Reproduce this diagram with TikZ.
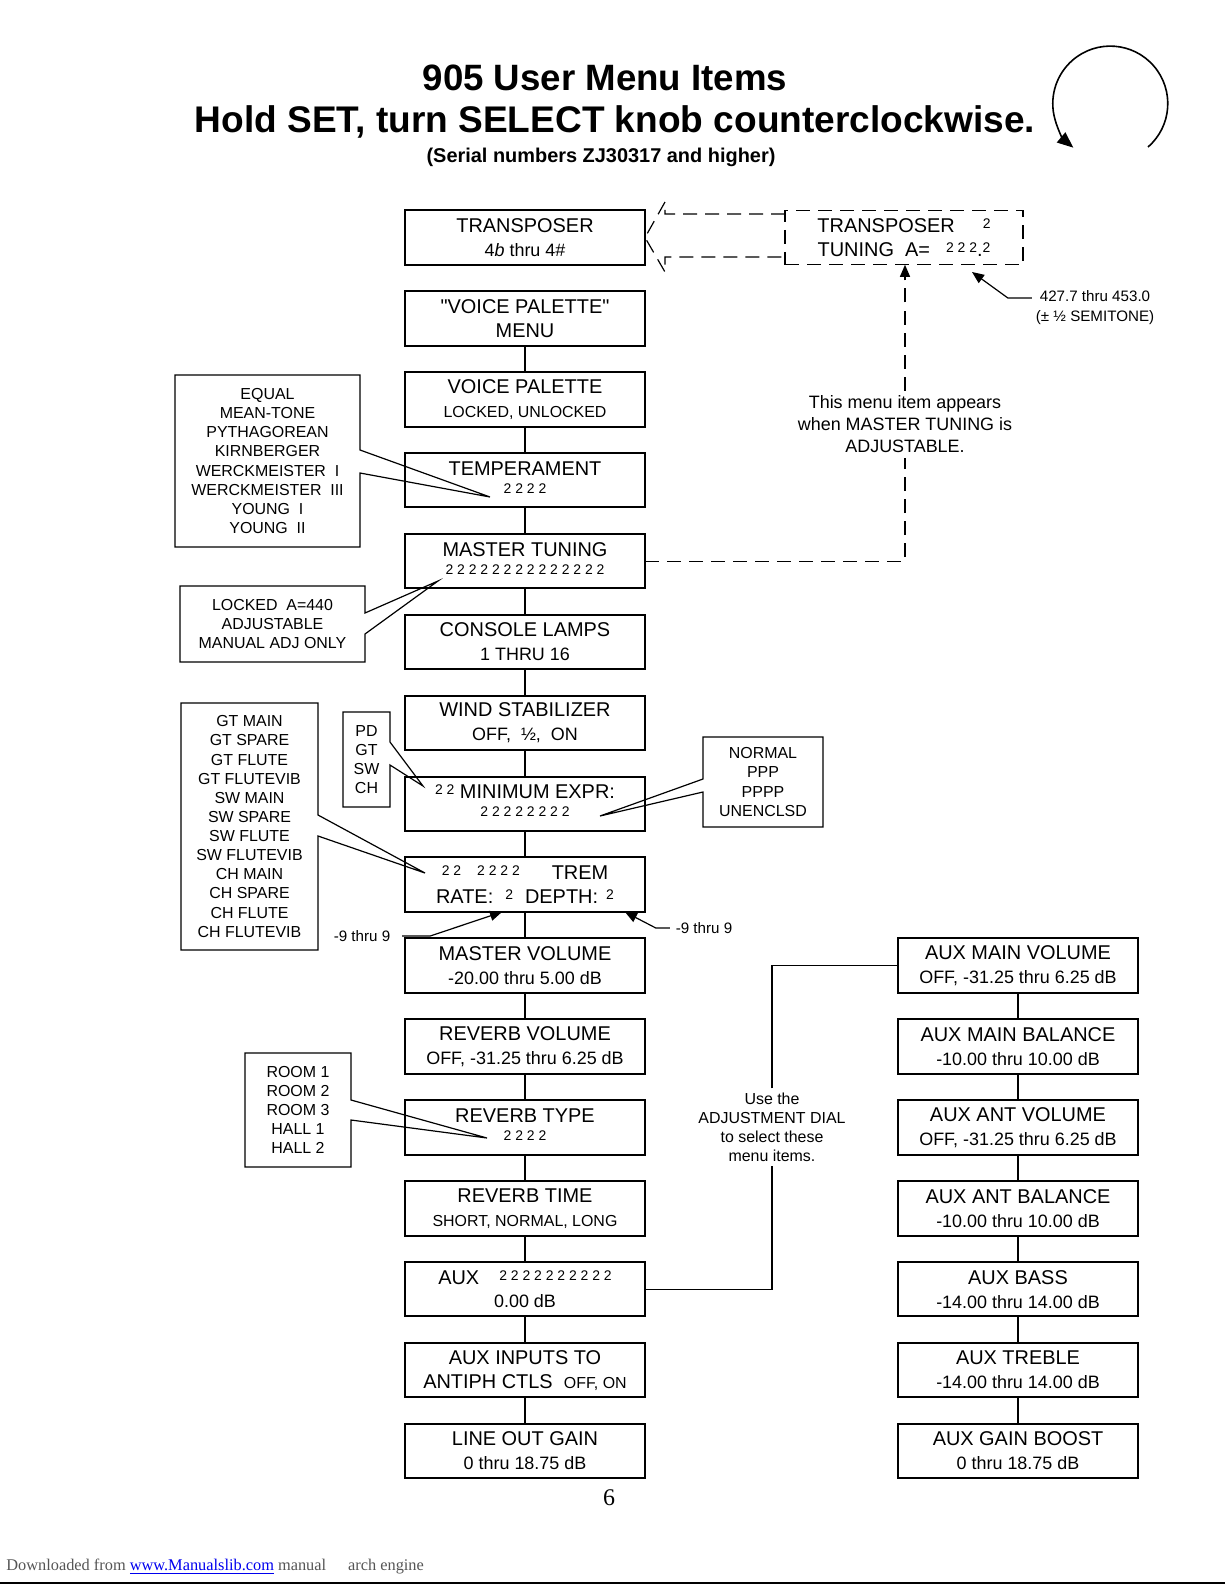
\documentclass[tikz,border=0pt]{standalone}
\usepackage{fontspec}
\setmainfont{Liberation Sans}
\newfontfamily\pageserif{Liberation Serif}
\usetikzlibrary{arrows.meta, positioning, calc}
\definecolor{linkblue}{RGB}{0,0,238}
\definecolor{footgray}{RGB}{85,85,85}

\newcommand{\subtxt}{\fontsize{9}{11}\selectfont}
\newcommand{\smtxt}{\fontsize{8}{10}\selectfont}
\newcommand{\twos}{\fontsize{7}{8}\selectfont}
\newcommand{\dg}[1]{\raisebox{2bp}{\twos #1}}
\newcommand{\twoline}[1]{\raisebox{3bp}[\height][\depth]{\twos #1}}
% callout outline, opening on the east or west side
\newcommand{\noteoutE}[4]{%
  \draw[noteline] (#1.north west) -- (#1.north east) -- ($(#1.east)+(0,#2)$) -- (#4)
    -- ($(#1.east)+(0,#3)$) -- (#1.south east) -- (#1.south west) -- cycle;}
\newcommand{\noteoutW}[4]{%
  \draw[noteline] (#1.north east) -- (#1.north west) -- ($(#1.west)+(0,#2)$) -- (#4)
    -- ($(#1.west)+(0,#3)$) -- (#1.south west) -- (#1.south east) -- cycle;}

\begin{document}
\begin{tikzpicture}[
    x=0.5bp, y=-0.5bp,
    node distance=13.2bp,
    menubox/.style={rectangle, draw, line width=1bp, minimum width=120bp,
                minimum height=27.25bp, inner sep=0pt, outer sep=0pt, align=center,
                font=\fontsize{10}{12}\selectfont},
    note/.style={rectangle, inner sep=0pt, outer sep=0pt, align=center,
                font=\fontsize{8}{9.6}\selectfont},
    noteline/.style={line width=0.6bp},
    link/.style={line width=0.6bp},
    dashline/.style={line width=0.6bp, dash pattern=on 7bp off 4bp},
    arrow/.style={-{Triangle[length=6bp, width=5bp]}, line width=0.6bp}
]
    \useasboundingbox (0,0) rectangle (1225,1585);

    % titles
    \node[anchor=base, font=\fontsize{18.4}{22}\selectfont\bfseries] (title) at (605,90) {905 User Menu Items};
    \node[anchor=base, font=\fontsize{18.6}{22}\selectfont\bfseries] (title2) at (615,132) {Hold SET, turn SELECT knob counterclockwise.};
    \node[anchor=base, font=\fontsize{10}{12}\selectfont\bfseries] (serial) at (601,162) {(Serial numbers ZJ30317 and higher)};
    \coordinate (knobstart) at (1148,147);
    \draw[line width=0.8bp, -{Triangle[length=8bp, width=6.5bp]}] (knobstart) arc[start angle=-49, end angle=230, radius=28.75bp];

    % main menu column
    \node[menubox] (transp) at (525,237.5) {TRANSPOSER\\{\subtxt 4\textit{b} thru 4\#}};
    \node[menubox, below=of transp] (vpmenu) {\textquotedbl VOICE PALETTE\textquotedbl\\MENU};
    \node[menubox, below=of vpmenu] (vpal) {VOICE PALETTE\\{\smtxt LOCKED, UNLOCKED}};
    \node[menubox, below=of vpal] (temper) {TEMPERAMENT\\\twoline{2 2 2 2}};
    \node[menubox, below=of temper] (mtune) {MASTER TUNING\\\twoline{2 2 2 2 2 2 2 2 2 2 2 2 2 2}};
    \node[menubox, below=of mtune] (lamps) {CONSOLE LAMPS\\{\subtxt 1 THRU 16}};
    \node[menubox, below=of lamps] (wind) {WIND STABILIZER\\{\subtxt OFF,\ \ ½,\ \ ON}};
    \node[menubox, below=of wind] (minexpr) {\dg{2 2} MINIMUM EXPR:\\\twoline{2 2 2 2 2 2 2 2}};
    \node[menubox, below=of minexpr] (trem) {\dg{2 2}\hspace{8bp}\dg{2 2 2 2}\hspace{16bp}TREM\\RATE:\hspace{6bp}\dg{2}\hspace{6bp}DEPTH:\hspace{4bp}\dg{2}};
    \node[menubox, below=of trem] (mvol) {MASTER VOLUME\\{\subtxt -20.00 thru 5.00 dB}};
    \node[menubox, below=of mvol] (rvol) {REVERB VOLUME\\{\subtxt OFF, -31.25 thru 6.25 dB}};
    \node[menubox, below=of rvol] (rtype) {REVERB TYPE\\\twoline{2 2 2 2}};
    \node[menubox, below=of rtype] (rtime) {REVERB TIME\\{\smtxt SHORT, NORMAL, LONG}};
    \node[menubox, below=of rtime] (aux) {AUX\hspace{10bp}\dg{2 2 2 2 2 2 2 2 2 2}\\{\subtxt 0.00 dB}};
    \node[menubox, below=of aux] (antiph) {AUX INPUTS TO\\ANTIPH CTLS\ \ {\smtxt OFF, ON}};
    \node[menubox, below=of antiph] (lineout) {LINE OUT GAIN\\{\subtxt 0 thru 18.75 dB}};

    % aux column
    \node[menubox] (auxmvol) at (1018,965.6) {AUX MAIN VOLUME\\{\subtxt OFF, -31.25 thru 6.25 dB}};
    \node[menubox, below=of auxmvol] (auxmbal) {AUX MAIN BALANCE\\{\subtxt -10.00 thru 10.00 dB}};
    \node[menubox, below=of auxmbal] (auxavol) {AUX ANT VOLUME\\{\subtxt OFF, -31.25 thru 6.25 dB}};
    \node[menubox, below=of auxavol] (auxabal) {AUX ANT BALANCE\\{\subtxt -10.00 thru 10.00 dB}};
    \node[menubox, below=of auxabal] (auxbass) {AUX BASS\\{\subtxt -14.00 thru 14.00 dB}};
    \node[menubox, below=of auxbass] (auxtreb) {AUX TREBLE\\{\subtxt -14.00 thru 14.00 dB}};
    \node[menubox, below=of auxtreb] (auxboost) {AUX GAIN BOOST\\{\subtxt 0 thru 18.75 dB}};

    \draw[link] (vpmenu) -- (vpal);
    \draw[link] (vpal) -- (temper);
    \draw[link] (temper) -- (mtune);
    \draw[link] (mtune) -- (lamps);
    \draw[link] (lamps) -- (wind);
    \draw[link] (wind) -- (minexpr);
    \draw[link] (minexpr) -- (trem);
    \draw[link] (trem) -- (mvol);
    \draw[link] (mvol) -- (rvol);
    \draw[link] (rvol) -- (rtype);
    \draw[link] (rtype) -- (rtime);
    \draw[link] (rtime) -- (aux);
    \draw[link] (aux) -- (antiph);
    \draw[link] (antiph) -- (lineout);
    \draw[link] (auxmvol) -- (auxmbal);
    \draw[link] (auxmbal) -- (auxavol);
    \draw[link] (auxavol) -- (auxabal);
    \draw[link] (auxabal) -- (auxbass);
    \draw[link] (auxbass) -- (auxtreb);
    \draw[link] (auxtreb) -- (auxboost);

    % adjustment dial hint
    \node[note, inner sep=2bp] (dial) at (772,1127) {Use the\\ADJUSTMENT DIAL\\to select these\\menu items.};
    \draw[link] (aux.east) -| (dial.south);
    \draw[link] (dial.north) |- (auxmvol.west);

    % transposer tuning (only when adjustable)
    \node[menubox, dashline, minimum width=119bp] (tuning) at (904,237.5) {TRANSPOSER\hspace{14bp}\dg{2}\\TUNING\ \ A=\hspace{8bp}\dg{2 2 2}.\dg{2}};
    \draw[dashline] (tuning.west |- 0,214) -- (665,214) -- (665,202) -- (transp.east)
        -- (665,272) -- (665,257) -- (tuning.west |- 0,257);
    \node[note, inner sep=2.5bp, font=\fontsize{9}{11}\selectfont] (adjnote) at (905,424) {This menu item appears\\when MASTER TUNING is\\ADJUSTABLE.};
    \draw[dashline] (mtune.east) -| (adjnote.south);
    \draw[dashline, -{Triangle[length=6bp, width=5bp]}] (adjnote.north) -- (adjnote.north |- tuning.south);
    \node[note, font=\fontsize{7.6}{10}\selectfont] (semi) at (1095,308) {427.7 thru 453.0\\(± ½ SEMITONE)};
    \coordinate (semitip) at (972,272);
    \draw[arrow] ($(semi.west)+(-4,-10)$) -- ++(-24,0) -- (semitip);

    % callouts
    \node[note, minimum width=92.5bp, minimum height=86bp] (tempnote) at (267.5,461) {EQUAL\\MEAN-TONE\\PYTHAGOREAN\\KIRNBERGER\\WERCKMEISTER\ \ I\\WERCKMEISTER\ \ III\\YOUNG\ \ I\\YOUNG\ \ II};
    \coordinate (temptip) at (490,497);
    \noteoutE{tempnote}{-11}{12}{temptip}
    \node[note, minimum width=92.5bp, minimum height=38bp] (locknote) at (272.5,624) {LOCKED\ \ A=440\\ADJUSTABLE\\MANUAL ADJ ONLY};
    \coordinate (locktip) at (438,581);
    \noteoutE{locknote}{-11}{10}{locktip}
    \node[note, minimum width=68.5bp, minimum height=123.5bp] (srcnote) at (249.5,826.5) {GT MAIN\\GT SPARE\\GT FLUTE\\GT FLUTEVIB\\SW MAIN\\SW SPARE\\SW FLUTE\\SW FLUTEVIB\\CH MAIN\\CH SPARE\\CH FLUTE\\CH FLUTEVIB};
    \coordinate (srctip) at (425,873);
    \noteoutE{srcnote}{-11.5}{9.5}{srctip}
    \node[note, minimum width=23.5bp, minimum height=47.5bp] (divnote) at (366.5,759.5) {PD\\GT\\SW\\CH};
    \coordinate (divtip) at (423,786);
    \noteoutE{divnote}{-17.5}{5.5}{divtip}
    \node[note, minimum width=60bp, minimum height=45bp] (exprnote) at (763,782) {NORMAL\\PPP\\PPPP\\UNENCLSD};
    \coordinate (exprtip) at (600,816);
    \noteoutW{exprnote}{-3}{10}{exprtip}
    \node[note, minimum width=53bp, minimum height=57bp] (roomnote) at (298,1110) {ROOM 1\\ROOM 2\\ROOM 3\\HALL 1\\HALL 2};
    \coordinate (roomtip) at (487,1138);
    \noteoutE{roomnote}{-10}{10}{roomtip}

    % trem ranges
    \node[note, font=\fontsize{7.6}{10}\selectfont] (ratenote) at (362,936) {-9 thru 9};
    \draw[arrow] ($(ratenote.east)+(12,0)$) -- ++(28,0) -- (trem.south -| 502,0);
    \node[note, font=\fontsize{7.6}{10}\selectfont] (depthnote) at (704,928) {-9 thru 9};
    \draw[arrow] ($(depthnote.west)+(-6,0)$) -- ++(-14,0) -- (trem.south -| 625,0);

    % page footer
    \node[font=\pageserif\fontsize{12}{14}\selectfont] (pagenum) at (609,1498) {6};
    \node[anchor=base west, inner sep=0pt, text=footgray, font=\pageserif\fontsize{8.2}{10}\selectfont] (dl) at (6,1570)
        {Downloaded from \textcolor{linkblue}{\underline{www.Manualslib.com}}\ manual\hspace{11bp}arch engine};
    \draw[line width=1bp] (0,1583) -- (1225,1583);
\end{tikzpicture}
\end{document}
